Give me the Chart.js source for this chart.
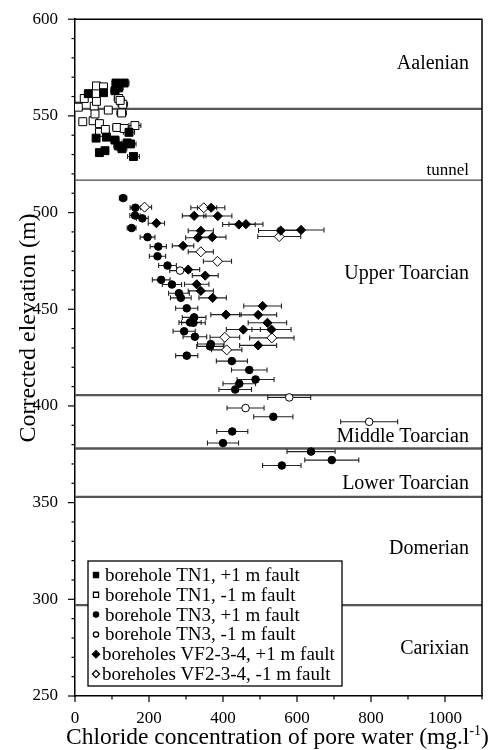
<!DOCTYPE html>
<html>
<head>
<meta charset="utf-8">
<script src="https://cdn.jsdelivr.net/npm/chart.js@4.4.1/dist/chart.umd.min.js"></script>
<style>
  html, body { margin: 0; padding: 0; background: #fff; }
  #wrap { width: 492px; height: 750px; }
</style>
</head>
<body>
<div id="wrap"><canvas id="c" width="492" height="750"></canvas></div>
<script>
const SERIF = '"Liberation Serif", "Times New Roman", serif';

// Each point: [chloride (mg/l), corrected elevation (m), ± error (mg/l)]
const tn1Plus = [
  [36, 561.5, 4], [77, 562, 8], [108, 563, 11], [118, 564.5, 12], [111, 567, 11],
  [133, 567, 13], [146, 541.5, 15], [57, 538.5, 6], [85, 539, 8], [108, 537.5, 11],
  [117, 534.5, 12], [127, 533, 13], [141, 536, 14], [150, 535.5, 15], [66, 531, 7],
  [81, 532, 8], [158, 529, 16]
];
const tn1Minus = [
  [6, 555, 1], [9, 554.5, 1], [21, 547, 2], [25, 559, 3], [49, 547.5, 5],
  [52, 555, 5], [54, 551, 5], [58, 565.5, 6], [58, 557.5, 6], [66, 546, 7],
  [66, 541.5, 7], [77, 565, 8], [82, 543, 8], [90, 553, 9], [113, 544, 11],
  [118, 559, 12], [126, 551.5, 13], [129, 556, 13], [133, 543.5, 13], [162, 545, 16],
  [122, 558, 12]
];
const tn3Plus = [
  [130, 507.5, 10], [163, 502.5, 14], [162, 498.5, 14], [182, 497, 16], [153, 492, 12],
  [196, 487.3, 20], [225, 482.4, 22], [223, 477.4, 22], [250, 472.6, 24], [233, 465.2, 24],
  [262, 462.8, 26], [281, 458.3, 28], [286, 455.9, 28], [302, 450.5, 30], [322, 445.8, 32],
  [311, 443.2, 30], [320, 443, 32], [295, 438.6, 30], [324, 435.8, 32], [367, 432, 36],
  [365, 430.8, 36], [302, 426, 30], [424, 423.2, 42], [471, 418.6, 48], [488, 413.7, 50],
  [444, 411.5, 44], [433, 408.5, 44], [536, 394.4, 53], [425, 386.8, 42], [400, 380.8, 42],
  [638, 376.4, 65], [694, 372, 73], [559, 369.2, 52]
];
const tn3Minus = [
  [284, 470, 28], [579, 404.4, 58], [461, 398.9, 50], [795, 391.8, 77]
];
const vfPlus = [
  [368, 502.5, 37], [322, 498.3, 32], [386, 498.2, 38], [220, 494.5, 22], [443, 493.8, 44],
  [462, 494, 46], [556, 490.7, 60], [611, 491, 62], [340, 490.6, 34], [332, 487, 33],
  [371, 487.3, 37], [292, 482.8, 29], [306, 470.5, 31], [352, 467.4, 35], [329, 462.9, 33],
  [340, 459.5, 34], [372, 455.9, 37], [507, 451.7, 51], [408, 447.2, 41], [495, 447.1, 50],
  [520, 443, 52], [455, 439.5, 46], [531, 439.5, 53], [495, 431.3, 50]
];
const vfMinus = [
  [188, 502.8, 19], [348, 502.5, 35], [552, 487.6, 58], [340, 479.7, 34], [385, 474.8, 38],
  [405, 435.5, 40], [532, 435.2, 60], [410, 429, 41]
];

const seriesLabels = [
  'borehole TN1, +1 m fault',
  'borehole TN1, -1 m fault',
  'borehole TN3, +1 m fault',
  'borehole TN3, -1 m fault',
  'boreholes VF2-3-4, +1 m fault',
  'boreholes VF2-3-4, -1 m fault'
];

// Stratigraphic boundaries (m) and the tunnel level
const boundaries = [553.6, 405.6, 378.0, 353.0, 297.0];
const tunnelLevel = 516.8;
const zoneNames = ['Aalenian', 'tunnel', 'Upper Toarcian', 'Middle Toarcian', 'Lower Toarcian', 'Domerian', 'Carixian'];
const zoneLabelElev = [577.0, 521.9, 468.5, 383.9, 360.0, 326.0, 274.3];

const xTitle = 'Chloride concentration of pore water (mg.l';
const yTitle = 'Corrected elevation (m)';

const toPoints = arr => arr.map(([x, y, err]) => ({ x, y, err }));

const markerDefs = [
  { data: tn1Plus,  pointStyle: 'rect',    radius: 5.6, fill: '#000' },
  { data: tn1Minus, pointStyle: 'rect',    radius: 5.6, fill: '#fff' },
  { data: tn3Plus,  pointStyle: 'circle',  radius: 3.8, fill: '#000' },
  { data: tn3Minus, pointStyle: 'circle',  radius: 3.8, fill: '#fff' },
  { data: vfPlus,   pointStyle: 'rectRot', radius: 4.6, fill: '#000' },
  { data: vfMinus,  pointStyle: 'rectRot', radius: 5.0, fill: '#fff' }
];

const datasets = markerDefs.map((m, i) => ({
  label: seriesLabels[i],
  data: toPoints(m.data),
  pointStyle: m.pointStyle,
  pointRadius: m.radius,
  pointHoverRadius: m.radius,
  pointBackgroundColor: m.fill,
  pointBorderColor: '#000',
  pointBorderWidth: 1,
  showLine: false
}));

const decor = {
  id: 'decor',
  beforeDatasetsDraw(chart) {
    const { ctx, chartArea: a, scales: { x, y } } = chart;
    ctx.save();
    // horizontal stage boundaries
    boundaries.forEach(b => {
      const py = y.getPixelForValue(b);
      ctx.strokeStyle = '#555';
      ctx.lineWidth = 2.4;
      ctx.beginPath(); ctx.moveTo(a.left, py); ctx.lineTo(a.right, py); ctx.stroke();
    });
    const ty = y.getPixelForValue(tunnelLevel);
    ctx.strokeStyle = '#444';
    ctx.lineWidth = 1.4;
    ctx.beginPath(); ctx.moveTo(a.left, ty); ctx.lineTo(a.right, ty); ctx.stroke();

    // horizontal error bars
    ctx.strokeStyle = '#222';
    ctx.lineWidth = 1.1;
    chart.data.datasets.forEach(ds => {
      ds.data.forEach(p => {
        const x0 = x.getPixelForValue(p.x - p.err);
        const x1 = x.getPixelForValue(p.x + p.err);
        const py = y.getPixelForValue(p.y);
        ctx.beginPath();
        ctx.moveTo(x0, py); ctx.lineTo(x1, py);
        ctx.moveTo(x0, py - 2.5); ctx.lineTo(x0, py + 2.5);
        ctx.moveTo(x1, py - 2.5); ctx.lineTo(x1, py + 2.5);
        ctx.stroke();
      });
    });
    ctx.restore();
  },
  afterDraw(chart) {
    const { ctx, chartArea: a, scales: { x, y } } = chart;
    ctx.save();
    // frame top and right
    ctx.strokeStyle = '#000';
    ctx.lineWidth = 1.5;
    ctx.beginPath();
    ctx.moveTo(a.left, a.top); ctx.lineTo(a.right, a.top); ctx.lineTo(a.right, a.bottom);
    ctx.stroke();

    // tick marks: major and minor
    ctx.lineWidth = 1.2;
    y.ticks.forEach(t => {
      const py = y.getPixelForValue(t.value);
      const len = t.value % 50 === 0 ? 7 : 3.5;
      ctx.beginPath(); ctx.moveTo(a.left - len, py); ctx.lineTo(a.left, py); ctx.stroke();
    });
    x.ticks.forEach(t => {
      const px = x.getPixelForValue(t.value);
      const len = t.value % 200 === 0 ? 6 : 3.5;
      ctx.beginPath(); ctx.moveTo(px, a.bottom); ctx.lineTo(px, a.bottom + len); ctx.stroke();
    });

    // stage names
    ctx.fillStyle = '#000';
    ctx.textAlign = 'right';
    ctx.textBaseline = 'middle';
    zoneNames.forEach((name, i) => {
      ctx.font = (name === 'tunnel' ? '17px ' : '20px ') + SERIF;
      ctx.fillText(name, 469, y.getPixelForValue(zoneLabelElev[i]));
    });

    // legend
    const lx = 88, ltop = 561, lw = 254, lh = 125;
    ctx.fillStyle = '#fff';
    ctx.fillRect(lx, ltop, lw, lh);
    ctx.strokeStyle = '#000';
    ctx.lineWidth = 1.3;
    ctx.strokeRect(lx, ltop, lw, lh);
    ctx.font = '19px ' + SERIF;
    ctx.textAlign = 'left';
    ctx.textBaseline = 'middle';
    const legendRadius = { rect: 3.6, circle: 2.6, rectRot: 3.6 };
    chart.data.datasets.forEach((ds, i) => {
      const cy = 575 + i * 19.8;
      ctx.fillStyle = ds.pointBackgroundColor;
      ctx.strokeStyle = '#000';
      Chart.helpers.drawPoint(ctx, {
        pointStyle: ds.pointStyle, radius: legendRadius[ds.pointStyle], rotation: 0, borderWidth: 1
      }, 96, cy);
      ctx.fillStyle = '#000';
      ctx.fillText(ds.label, ds.pointStyle === 'rectRot' ? 102 : 105, cy + 1);
    });

    // axis titles
    ctx.fillStyle = '#000';
    ctx.font = '23.5px ' + SERIF;
    const mainW = ctx.measureText(xTitle).width;
    ctx.font = '14px ' + SERIF;
    const supW = ctx.measureText('-1').width;
    ctx.font = '23.5px ' + SERIF;
    const closeW = ctx.measureText(')').width;
    let sx = 277.5 - (mainW + supW + closeW) / 2;
    ctx.textAlign = 'left';
    ctx.textBaseline = 'alphabetic';
    ctx.fillText(xTitle, sx, 744);
    ctx.font = '14px ' + SERIF;
    ctx.fillText('-1', sx + mainW, 735);
    ctx.font = '23.5px ' + SERIF;
    ctx.fillText(')', sx + mainW + supW, 744);

    ctx.font = '24px ' + SERIF;
    ctx.translate(29, 328);
    ctx.rotate(-Math.PI / 2);
    ctx.textAlign = 'center';
    ctx.textBaseline = 'middle';
    ctx.fillText(yTitle, 0, 0);
    ctx.restore();
  }
};

new Chart(document.getElementById('c'), {
  type: 'scatter',
  data: { datasets },
  options: {
    responsive: false,
    animation: false,
    devicePixelRatio: 1,
    layout: { padding: { top: 19, right: 10, left: 0, bottom: 0 } },
    plugins: { legend: { display: false }, tooltip: { enabled: false } },
    scales: {
      x: {
        type: 'linear', min: 0, max: 1100,
        grid: { display: false },
        border: { display: true, color: '#000', width: 1.5 },
        ticks: {
          stepSize: 100, autoSkip: false, maxRotation: 0, padding: 4,
          color: '#000', font: { family: SERIF, size: 17 },
          callback: v => (v % 200 === 0 ? v : '')
        },
        afterFit: s => { s.height = 54; }
      },
      y: {
        type: 'linear', min: 250, max: 600,
        grid: { display: false },
        border: { display: true, color: '#000', width: 1.5 },
        ticks: {
          stepSize: 10, autoSkip: false, padding: 9,
          color: '#000', font: { family: SERIF, size: 17 },
          callback: v => (v % 50 === 0 ? v : '')
        },
        afterFit: s => { s.width = 75; }
      }
    }
  },
  plugins: [decor]
});
</script>
